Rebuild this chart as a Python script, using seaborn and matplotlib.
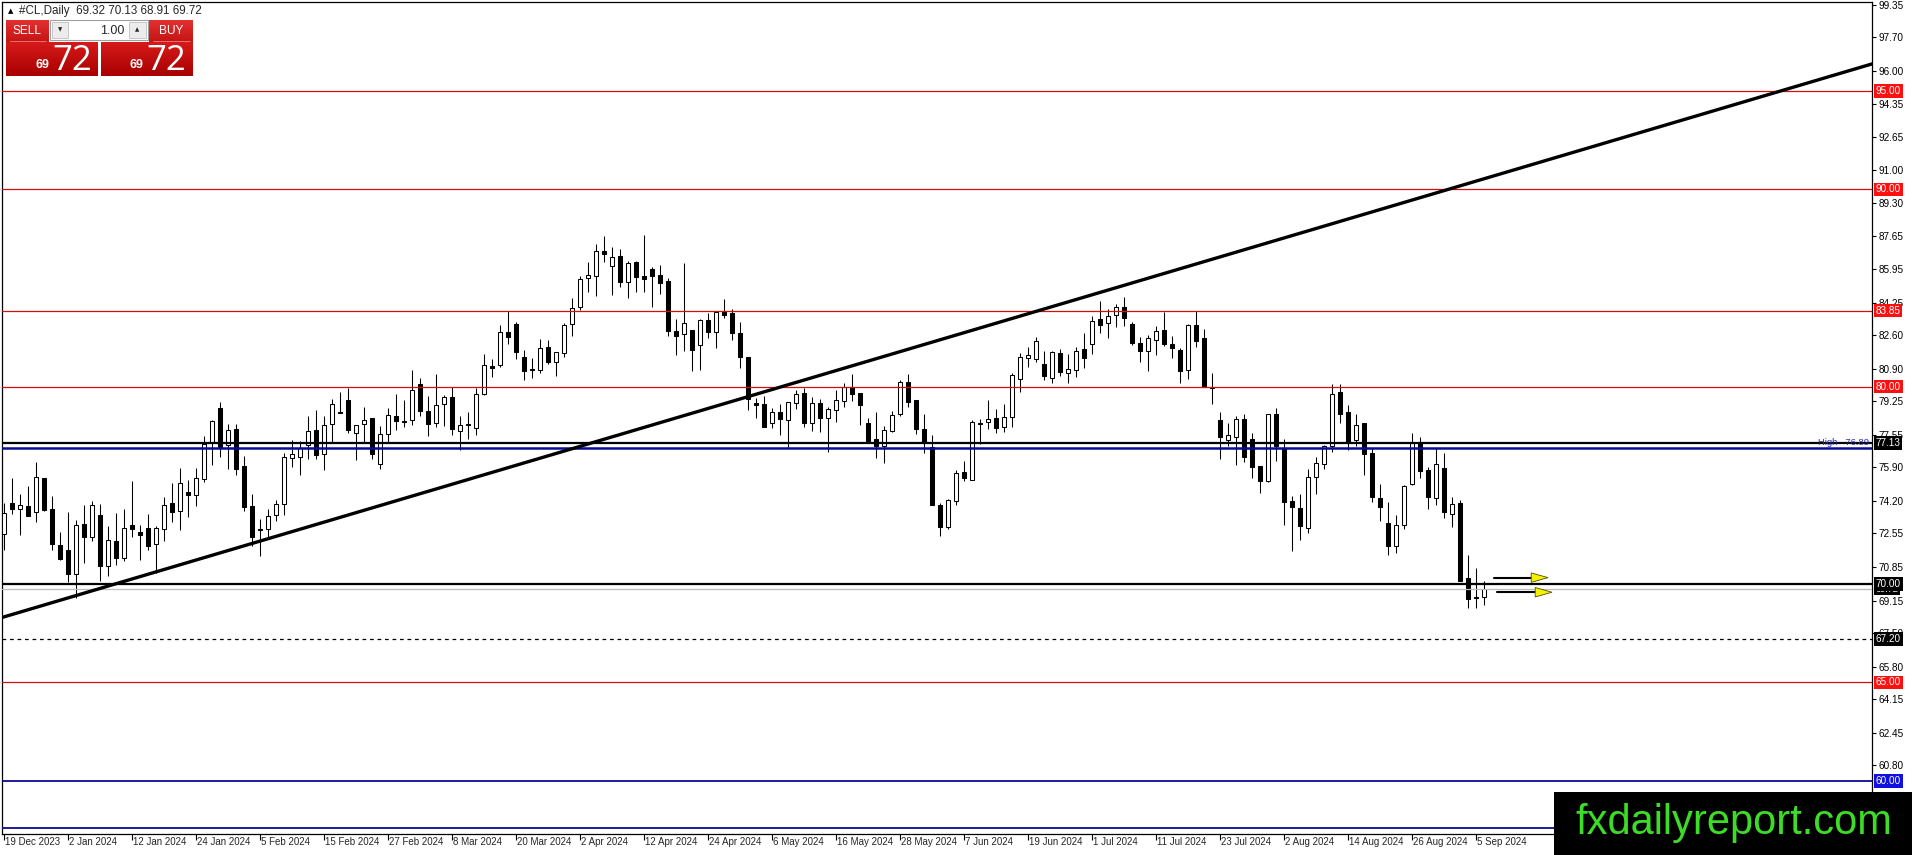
import numpy as np
import pandas as pd
import seaborn as sns
import matplotlib
matplotlib.use("Agg")
import matplotlib.pyplot as plt
from matplotlib.patches import Rectangle, Polygon
from matplotlib.colors import LinearSegmentedColormap

# daily OHLC, 19 Dec 2023 .. 6 Sep 2024
opens = [72.54, 74.10, 73.80, 73.92, 73.63, 75.34, 73.80, 71.97, 71.71, 70.49,
         73.05, 72.37, 73.51, 70.88, 72.17, 71.29, 72.98, 72.63, 72.83, 72.02,
         72.78, 74.10, 73.70, 74.66, 74.51, 75.32, 77.19, 78.93, 77.02, 77.83,
         75.98, 73.92, 72.78, 72.78, 73.49, 74.03, 76.37, 76.44, 77.06, 77.81,
         76.59, 78.11, 78.70, 79.30, 77.63, 78.12, 78.39, 76.08, 77.61, 78.49,
         78.27, 78.30, 80.15, 78.74, 78.15, 79.13, 79.49, 77.74, 78.11, 77.91,
         79.64, 81.06, 81.10, 82.76, 83.17, 81.52, 80.88, 80.83, 81.98, 81.22,
         81.68, 83.17, 84.05, 85.49, 85.62, 86.86, 86.10, 86.61, 85.32, 86.30,
         85.59, 85.96, 85.66, 85.37, 82.80, 82.66, 82.86, 82.10, 83.37, 82.78,
         83.84, 83.71, 82.74, 81.50, 79.15, 79.10, 78.17, 78.73, 78.30, 79.18,
         79.66, 78.17, 79.15, 78.42, 78.81, 79.27, 80.00, 79.69, 78.13, 77.32,
         76.98, 77.74, 78.59, 80.25, 79.30, 77.86, 76.95, 74.01, 72.86, 74.22,
         75.67, 75.25, 78.15, 78.22, 78.39, 77.95, 78.46, 80.37, 81.47, 81.42,
         81.13, 80.45, 81.68, 80.71, 80.84, 81.90, 82.15, 83.42, 83.20, 83.62,
         84.05, 83.17, 82.23, 81.78, 82.37, 82.86, 82.15, 81.84, 80.85, 83.12,
         82.46, 80.00, 78.29, 77.28, 77.45, 78.37, 77.32, 75.96, 75.20, 78.59,
         76.90, 74.22, 73.85, 72.83, 75.42, 76.05, 76.98, 79.74, 78.73, 77.28,
         78.17, 76.61, 74.35, 73.08, 71.90, 72.96, 75.08, 77.20, 75.79, 74.35,
         75.88, 73.54, 74.10, 70.29, 69.31, 69.32]
highs = [74.07, 75.37, 74.56, 74.95, 76.19, 75.34, 74.44, 72.61, 73.64, 73.24,
         74.00, 74.22, 74.02, 72.95, 73.59, 73.80, 75.22, 72.97, 73.54, 72.95,
         74.39, 75.12, 75.85, 75.24, 75.85, 77.49, 78.30, 79.24, 78.12, 78.09,
         76.47, 74.53, 73.30, 73.80, 74.27, 76.61, 77.27, 77.22, 78.49, 78.79,
         78.50, 79.35, 79.74, 79.91, 78.03, 78.95, 78.39, 78.00, 78.93, 79.61,
         79.30, 80.83, 80.42, 79.52, 80.66, 79.56, 80.00, 78.50, 78.73, 79.95,
         81.64, 81.42, 83.10, 83.85, 83.25, 81.86, 81.44, 82.40, 82.35, 81.73,
         83.22, 84.47, 85.60, 86.30, 87.23, 87.62, 87.06, 86.95, 86.35, 86.35,
         87.66, 86.05, 86.17, 85.49, 83.45, 86.27, 82.86, 83.42, 83.71, 83.84,
         84.44, 83.93, 83.28, 81.50, 79.44, 79.52, 78.93, 79.10, 79.23, 79.83,
         79.95, 79.47, 79.39, 78.98, 79.83, 80.17, 80.62, 79.69, 78.42, 78.71,
         77.99, 78.76, 80.32, 80.62, 79.30, 78.62, 77.52, 74.10, 74.32, 75.76,
         76.22, 78.29, 78.37, 79.30, 78.88, 79.13, 80.71, 81.69, 81.98, 82.49,
         81.78, 81.78, 81.90, 81.64, 82.03, 82.74, 83.59, 84.35, 83.93, 84.18,
         84.52, 83.29, 82.49, 82.61, 83.08, 83.80, 82.57, 81.93, 83.17, 83.85,
         82.91, 80.71, 78.73, 78.17, 78.50, 78.59, 77.66, 75.96, 78.62, 78.90,
         77.32, 74.47, 74.56, 75.83, 76.44, 77.06, 80.15, 80.12, 79.07, 78.59,
         78.17, 76.90, 75.07, 74.15, 73.51, 75.03, 77.62, 77.46, 75.93, 76.90,
         76.61, 74.40, 74.27, 71.47, 70.79, 70.13]
lows = [71.73, 73.56, 72.46, 73.42, 73.12, 73.71, 71.70, 71.22, 70.07, 69.27,
        71.03, 72.19, 70.12, 70.41, 70.97, 71.14, 72.36, 71.22, 71.70, 70.54,
        72.19, 73.14, 72.71, 73.37, 73.93, 75.15, 76.02, 76.42, 75.80, 75.49,
        73.68, 71.90, 71.39, 72.37, 73.20, 73.51, 75.92, 75.51, 76.35, 76.35,
        75.76, 77.15, 78.65, 77.66, 76.30, 77.15, 76.34, 75.83, 77.15, 77.81,
        77.96, 78.05, 78.50, 77.49, 77.95, 78.00, 77.54, 76.76, 77.35, 77.54,
        79.56, 80.49, 81.01, 82.15, 81.42, 80.32, 80.42, 80.71, 81.13, 80.54,
        81.52, 82.57, 83.90, 84.81, 84.60, 86.30, 84.64, 85.06, 84.49, 84.80,
        84.78, 84.05, 84.69, 82.54, 81.59, 81.81, 80.79, 80.83, 82.44, 81.95,
        83.50, 82.37, 80.96, 78.81, 78.42, 77.96, 77.88, 77.54, 76.95, 78.88,
        77.96, 77.74, 77.69, 76.67, 78.22, 78.98, 79.27, 78.05, 77.23, 76.39,
        76.13, 77.69, 78.50, 78.98, 77.57, 76.61, 73.98, 72.44, 72.79, 74.01,
        75.20, 75.25, 77.10, 77.83, 77.62, 77.69, 77.95, 79.72, 81.00, 81.25,
        80.34, 80.20, 80.54, 80.20, 80.50, 80.96, 81.64, 82.69, 82.44, 83.03,
        83.05, 82.10, 81.25, 80.79, 81.59, 82.07, 81.44, 80.17, 80.40, 82.01,
        80.00, 79.10, 76.35, 76.98, 76.00, 76.17, 75.34, 74.60, 75.15, 76.22,
        72.96, 71.64, 72.20, 72.57, 74.57, 75.80, 76.68, 78.17, 76.78, 76.98,
        75.51, 74.13, 73.17, 71.44, 71.56, 72.79, 75.00, 75.34, 73.81, 74.01,
        73.34, 72.86, 70.12, 68.76, 68.76, 68.91]
closes = [73.59, 73.80, 73.97, 73.46, 75.42, 73.76, 72.00, 71.27, 70.49, 72.98,
          72.37, 73.97, 70.88, 72.22, 71.29, 72.83, 72.76, 72.46, 71.90, 72.83,
          73.98, 73.63, 75.12, 74.49, 75.34, 77.10, 78.24, 76.95, 77.78, 75.83,
          73.88, 72.36, 72.71, 73.46, 74.05, 76.44, 76.59, 76.90, 77.76, 76.52,
          78.06, 79.13, 78.68, 77.79, 78.03, 78.32, 76.59, 77.61, 78.54, 78.25,
          78.20, 79.81, 78.76, 78.11, 79.08, 79.45, 77.84, 78.06, 78.06, 79.64,
          81.10, 80.96, 82.79, 82.49, 81.73, 80.79, 80.83, 81.93, 81.25, 81.73,
          83.12, 83.96, 85.45, 85.66, 86.86, 86.73, 86.56, 85.32, 86.27, 85.57,
          85.46, 85.62, 85.25, 82.83, 82.54, 83.20, 81.86, 83.37, 82.78, 83.76,
          83.64, 82.74, 81.50, 79.35, 79.05, 77.96, 78.71, 78.37, 79.23, 79.61,
          78.13, 79.18, 78.42, 78.88, 79.34, 80.00, 79.61, 79.05, 77.23, 76.98,
          77.79, 78.56, 80.25, 79.24, 77.86, 77.15, 73.98, 72.86, 74.27, 75.62,
          75.37, 78.22, 78.12, 78.34, 77.88, 78.47, 80.57, 81.52, 81.59, 82.32,
          80.54, 81.73, 80.76, 80.88, 81.78, 81.44, 83.34, 83.13, 83.59, 84.05,
          83.46, 82.23, 81.81, 82.44, 82.83, 82.15, 81.95, 80.79, 83.12, 82.32,
          80.00, 79.95, 77.44, 77.52, 78.34, 76.44, 75.91, 75.23, 78.62, 76.98,
          74.15, 73.88, 72.91, 75.42, 76.10, 77.01, 79.64, 78.63, 77.12, 78.05,
          76.59, 74.40, 73.90, 71.90, 72.96, 74.98, 77.15, 75.71, 74.39, 76.05,
          73.62, 74.05, 70.12, 69.22, 69.30, 69.72]

date_labels = ["19 Dec 2023", "2 Jan 2024", "12 Jan 2024", "24 Jan 2024", "5 Feb 2024",
               "15 Feb 2024", "27 Feb 2024", "8 Mar 2024", "20 Mar 2024", "2 Apr 2024",
               "12 Apr 2024", "24 Apr 2024", "6 May 2024", "16 May 2024", "28 May 2024",
               "7 Jun 2024", "19 Jun 2024", "1 Jul 2024", "11 Jul 2024", "23 Jul 2024",
               "2 Aug 2024", "14 Aug 2024", "26 Aug 2024", "5 Sep 2024"]
label_step = 8

y_ticks = [99.35, 97.70, 96.00, 94.35, 92.65, 91.00, 89.30, 87.65, 85.95, 84.25,
           82.60, 80.90, 79.25, 77.55, 75.90, 74.20, 72.55, 70.85, 69.15, 67.50,
           65.80, 64.15, 62.45, 60.80]

red_levels = [95.00, 90.00, 83.85, 80.00, 65.00]
black_levels = [77.13, 70.00]
dashed_level = 67.20
blue_levels = [60.00, 57.62]
high_level = 76.89
bid_price = 69.72

trend_x = [-0.5, 233.5]
trend_y = [68.26, 96.36]

arrow_prices = [70.31, 69.57]
arrow_from = [186.25, 186.6]
arrow_to = [193.0, 193.5]

symbol = "#CL,Daily"
last_ohlc = "69.32 70.13 68.91 69.72"

sns.set_theme(style="white", rc={"axes.edgecolor": "black", "axes.linewidth": 0.9,
                                 "xtick.color": "black", "ytick.color": "black"})
plt.rcParams['font.family'] = ['Liberation Sans', 'DejaVu Sans']

W, H = 1912, 855
fig = plt.figure(figsize=(W / 100, H / 100), dpi=100)
fig.patch.set_facecolor("white")
ax = fig.add_axes([2 / W, 21 / H, 1870 / W, 832 / H])
ax.set_facecolor("white")

df = pd.DataFrame({"open": opens, "high": highs, "low": lows, "close": closes})
df["x"] = np.arange(len(df))
up = df["close"] >= df["open"]

# candles
ax.vlines(df["x"], df["low"], df["high"], color="black", lw=0.75, zorder=2)
body_low = np.minimum(df["open"], df["close"])
body_h = np.maximum((df["close"] - df["open"]).abs(), 0.05)
ax.bar(df["x"], body_h, bottom=body_low, width=0.42,
       color=np.where(up, "white", "black"), edgecolor="black", linewidth=0.75, zorder=3)

# levels
for lv in red_levels:
    ax.axhline(lv, color="#d01010", lw=0.9, zorder=4)
for lv in black_levels:
    ax.axhline(lv, color="black", lw=1.6, zorder=4)
ax.axhline(bid_price, color="#bdbdbd", lw=0.9, zorder=4)
ax.axhline(dashed_level, color="black", lw=0.9, ls=(0, (3, 3)), zorder=4)
for lv in blue_levels:
    ax.axhline(lv, color="#0a0a96", lw=1.3, zorder=4)
ax.axhline(high_level, color="#0a0a96", lw=1.8, zorder=4)

# trendline
trend = pd.DataFrame({"x": trend_x, "y": trend_y})
sns.lineplot(data=trend, x="x", y="y", color="black", lw=2.4, ax=ax, zorder=5)

# arrows
for p, x0, x1 in zip(arrow_prices, arrow_from, arrow_to):
    ax.plot([x0, x1 - 1.5], [p, p], color="black", lw=1.5, zorder=6)
    ax.add_patch(Polygon([[x1 - 2.1, p + 0.24], [x1, p], [x1 - 2.1, p - 0.24]],
                         closed=True, facecolor="#f5f000", edgecolor="#505000",
                         lw=0.6, zorder=7))

ax.set_xlim(-0.25, 233.5)
ax.set_ylim(57.31, 99.50)
ax.set_xlabel("")
ax.set_ylabel("")

# right price scale
ax.yaxis.tick_right()
ax.set_yticks(y_ticks)
ax.set_yticklabels([f"{v:.2f}" for v in y_ticks])
ax.tick_params(axis="y", direction="out", length=3, width=0.8, labelsize=7.2, pad=2,
               right=True, left=False)

# time scale
tick_pos = [k * label_step for k in range(len(date_labels))]
ax.set_xticks(tick_pos)
ax.set_xticklabels([])
ax.tick_params(axis="x", direction="out", length=4, width=0.8, bottom=True)
for pos, lab in zip(tick_pos, date_labels):
    ax.annotate(lab, xy=(pos, 0), xycoords=("data", "axes fraction"),
                xytext=(1.0, -2.5), textcoords="offset points", ha="left", va="top",
                fontsize=7.0, annotation_clip=False)

for sp in ax.spines.values():
    sp.set_color("black")
    sp.set_linewidth(0.9)


def price_tag(level, color, size=7.2):
    ax.annotate(f"{level:.2f}", xy=(1, level), xycoords=("axes fraction", "data"),
                xytext=(2.6, 0), textcoords="offset points", ha="left", va="center",
                fontsize=size, color="white", annotation_clip=False, zorder=20,
                bbox=dict(boxstyle="square,pad=0.18", facecolor=color, edgecolor="none"))


for lv in red_levels:
    price_tag(lv, "#ff1010")
price_tag(bid_price, "black", 6.6)
for lv in black_levels:
    price_tag(lv, "black")
price_tag(dashed_level, "black")
price_tag(blue_levels[0], "#1010e0")

ax.annotate(f"High   {high_level:.2f}", xy=(1, high_level), xycoords=("axes fraction", "data"),
            xytext=(-2, 0.5), textcoords="offset points", ha="right", va="bottom",
            fontsize=6.8, color="#2a2ab0", zorder=8)

# overlay in pixel space: trade panel, header, watermark
ov = fig.add_axes([0, 0, 1, 1], zorder=10)
ov.set_autoscale_on(False)
ov.set_xlim(0, W)
ov.set_ylim(H, 0)
ov.axis("off")


def grad_box(x0, y0, x1, y1, c_top, c_bot):
    cmap = LinearSegmentedColormap.from_list("g", [c_top, c_bot])
    ov.imshow(np.linspace(0, 1, 64).reshape(-1, 1), extent=(x0, x1, y1, y0),
              cmap=cmap, aspect="auto", zorder=1)


ov.text(8, 11, "\u25b2", fontsize=5, va="center", ha="left", color="black",
        family=["DejaVu Sans"])
ov.text(19, 11, f"{symbol}  {last_ohlc}", fontsize=8.4, va="center", ha="left")

grad_box(6, 20, 49, 42, "#e43030", "#c41414")
grad_box(149, 20, 193, 42, "#e43030", "#c41414")
grad_box(6, 42, 98, 76, "#d61a1a", "#a80000")
grad_box(101, 42, 193, 76, "#d61a1a", "#a80000")
ov.plot([10, 46], [41.5, 41.5], color="#f08080", lw=0.6, zorder=2)
ov.plot([153, 190], [41.5, 41.5], color="#f08080", lw=0.6, zorder=2)
ov.add_patch(Rectangle((50, 20), 98, 20, facecolor="white", edgecolor="#a0a0a0", lw=0.8, zorder=2))
ov.add_patch(Rectangle((52, 22), 16, 16, facecolor="#ececec", edgecolor="#c0c0c0", lw=0.6, zorder=3))
ov.add_patch(Rectangle((129, 22), 17, 16, facecolor="#ececec", edgecolor="#c0c0c0", lw=0.6, zorder=3))
ov.text(60, 30, "\u25bc", fontsize=4, ha="center", va="center", family=["DejaVu Sans"], zorder=4)
ov.text(137.5, 30, "\u25b2", fontsize=4, ha="center", va="center", family=["DejaVu Sans"], zorder=4)
ov.text(124, 30.5, "1.00", fontsize=9, ha="right", va="center", zorder=4)
ov.text(27.5, 31, "SELL", fontsize=8.6, ha="center", va="center", color="white", zorder=4)
ov.text(171, 31, "BUY", fontsize=8.6, ha="center", va="center", color="white", zorder=4)
ov.text(49, 68, "69", fontsize=9, ha="right", va="baseline", color="white",
        weight="bold", zorder=4)
ov.text(52, 70, "72", fontsize=25, ha="left", va="baseline", color="white", zorder=4,
        family=["Open Sans", "DejaVu Sans"])
ov.text(143, 68, "69", fontsize=9, ha="right", va="baseline", color="white",
        weight="bold", zorder=4)
ov.text(146, 70, "72", fontsize=25, ha="left", va="baseline", color="white", zorder=4,
        family=["Open Sans", "DejaVu Sans"])

ov.add_patch(Rectangle((1554, 792), W - 1554, H - 792, facecolor="black", edgecolor="none", zorder=5))
ov.text(1734, 823, "fxdailyreport.com", fontsize=30, color="#3ddc26", ha="center",
        va="center", zorder=6)

fig.savefig("out.png", dpi=100, facecolor="white")
